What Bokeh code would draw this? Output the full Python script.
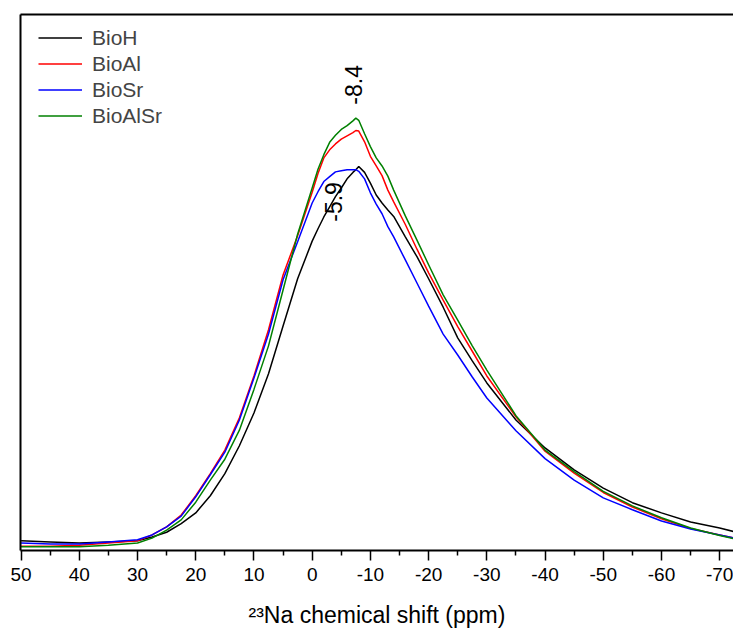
from bokeh.plotting import figure
from bokeh.models import Range1d, FixedTicker, LinearAxis, Label, Legend, LegendItem
from bokeh.embed import file_html
from bokeh.resources import INLINE

# chemical shift grid (ppm)
ppm = [50, 45, 40, 35, 30, 27.5, 25, 22.5, 20, 17.5, 15, 12.5, 10, 7.5, 5, 2.5,
       0, -1, -2, -3, -4, -5, -6, -7, -7.5, -8, -9, -10, -11, -12, -13, -14,
       -16, -18, -20, -22.5, -25, -27.5, -30, -35, -40, -45, -50, -55, -60, -65, -70, -72.5]

bioh = [1.8, 1.6, 1.4, 1.6, 1.8, 2.5, 3.4, 5.0, 7.0, 10.2, 14.3, 19.5, 25.6, 32.9, 41.8, 50.6,
        57.6, 59.9, 62.1, 64.0, 65.9, 67.5, 69.2, 70.4, 70.9, 71.5, 70.4, 68.4, 66.2, 64.7, 63.4, 62.2,
        58.4, 54.7, 50.6, 45.3, 39.6, 35.3, 31.2, 24.3, 19.1, 15.0, 11.6, 8.9, 7.0, 5.3, 4.2, 3.5]

bioal = [0.8, 0.8, 1.0, 1.4, 1.8, 2.9, 4.4, 6.6, 10.2, 14.3, 18.7, 24.7, 32.5, 41.1, 51.3, 58.6,
         66.7, 70.2, 73.1, 74.6, 75.7, 76.6, 77.2, 77.8, 78.2, 78.1, 76.1, 73.4, 71.6, 69.8, 67.1, 64.9,
         60.7, 56.1, 51.7, 46.6, 41.7, 37.1, 32.5, 24.9, 18.5, 14.4, 10.8, 8.1, 5.9, 4.1, 2.9, 2.3]

biosr = [1.4, 1.2, 1.2, 1.6, 2.0, 2.9, 4.4, 6.4, 10.0, 14.1, 18.3, 24.3, 32.1, 40.3, 50.4, 57.5,
         64.7, 66.8, 68.7, 69.6, 70.5, 70.7, 70.9, 70.9, 70.9, 70.6, 69.2, 66.6, 64.5, 62.7, 60.3, 58.4,
         54.1, 49.8, 45.5, 40.3, 36.4, 32.3, 28.4, 22.3, 17.1, 13.1, 9.8, 7.6, 5.5, 4.0, 2.9, 2.3]

bioalsr = [0.7, 0.7, 0.7, 1.0, 1.4, 2.3, 3.8, 5.7, 9.0, 13.1, 17.0, 22.4, 30.0, 38.1, 48.5, 58.9,
           67.5, 71.0, 73.7, 76.0, 77.3, 78.4, 79.1, 80.0, 80.5, 80.1, 77.6, 75.2, 73.1, 71.6, 69.7, 67.1,
           62.3, 57.8, 53.2, 47.6, 42.9, 38.1, 33.6, 25.1, 18.7, 14.7, 11.0, 8.3, 6.1, 4.2, 2.8, 2.2]

series_names = ["BioH", "BioAl", "BioSr", "BioAlSr"]
series_values = [bioh, bioal, biosr, bioalsr]
series_colors = ["#000000", "#ff0000", "#0000ff", "#008000"]

x_major_ticks = [50, 40, 30, 20, 10, 0, -10, -20, -30, -40, -50, -60, -70]
x_tick_labels = ["50", "40", "30", "20", "10", "0", "-10", "-20", "-30", "-40", "-50", "-60", "-70"]
x_minor_ticks = [45, 35, 25, 15, 5, -5, -15, -25, -35, -45, -55, -65]

peak_labels = ["-8.4", "-5.9"]
peak_label_pos = [(-7.1, 86.7), (-3.6, 64.9)]

FONT = "Liberation Sans"

p = figure(width=733, height=630,
           x_range=Range1d(50.1, -72.37), y_range=Range1d(0, 99.8),
           output_backend="svg", toolbar_location=None,
           min_border_left=20, min_border_right=0, min_border_top=14, min_border_bottom=80)

p.outline_line_color = None
p.grid.visible = False
p.background_fill_color = "white"
p.border_fill_color = "white"

# bottom axis
xa = p.xaxis[0]
xa.ticker = FixedTicker(ticks=x_major_ticks, minor_ticks=x_minor_ticks)
xa.major_label_overrides = {t: s for t, s in zip(x_major_ticks, x_tick_labels)}
xa.major_tick_in = 0
xa.major_tick_out = 10
xa.minor_tick_in = 0
xa.minor_tick_out = 5
xa.axis_line_width = 2
xa.major_tick_line_width = 1.5
xa.minor_tick_line_width = 1.5
xa.major_label_text_font = FONT
xa.major_label_text_font_size = "19px"
xa.major_label_text_color = "black"
xa.major_label_standoff = 7
xa.axis_label = "\u00b2\u00b3Na chemical shift (ppm)"
xa.axis_label_text_font = FONT
xa.axis_label_text_font_size = "23px"
xa.axis_label_text_font_style = "normal"
xa.axis_label_text_color = "black"
xa.axis_label_standoff = 18

# left axis as frame border only
ya = p.yaxis[0]
ya.ticker = FixedTicker(ticks=[])
ya.major_tick_line_color = None
ya.minor_tick_line_color = None
ya.major_label_text_font_size = "0px"
ya.axis_line_width = 2

# top border
top = LinearAxis(ticker=FixedTicker(ticks=[]), major_tick_line_color=None,
                 minor_tick_line_color=None, major_label_text_font_size="0px",
                 axis_line_width=2)
p.add_layout(top, "above")

items = []
for name, vals, col in zip(series_names, series_values, series_colors):
    r = p.line(ppm, vals, line_color=col, line_width=1.5)
    items.append(LegendItem(label=name, renderers=[r]))

legend = Legend(items=items, location=(18, 422), padding=0, margin=0, spacing=1,
                glyph_width=44, glyph_height=25, label_height=25, label_standoff=10,
                label_text_font=FONT, label_text_font_size="21px",
                border_line_color=None, background_fill_alpha=0)
p.add_layout(legend)

for txt, (lx, ly) in zip(peak_labels, peak_label_pos):
    p.add_layout(Label(x=lx, y=ly, text=txt, angle=1.5708, text_align="center",
                       text_baseline="middle", text_font=FONT, text_font_size="23px",
                       text_color="black"))

open("out.html", "w").write(file_html(p, INLINE))
